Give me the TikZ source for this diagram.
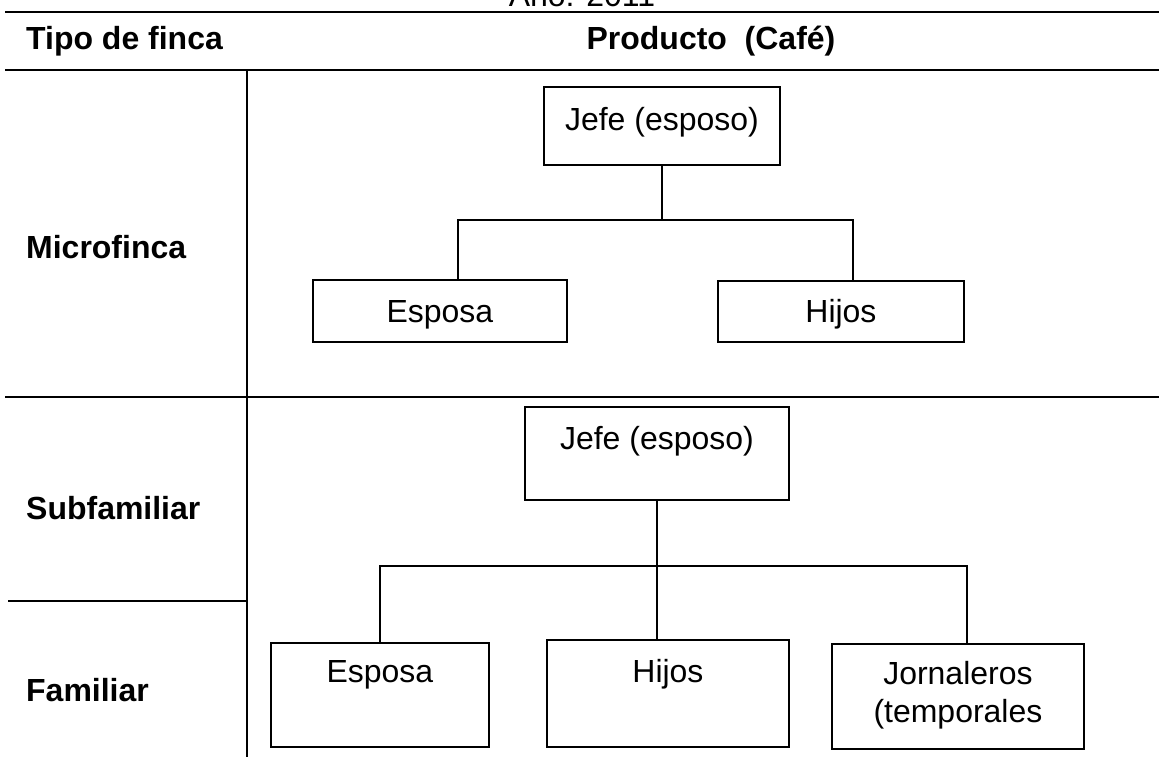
\documentclass[tikz,border=0pt]{standalone}
\usepackage{fontspec}
\setmainfont{Liberation Sans}
\tikzset{
  gruesa/.style={line width=1.6pt},
  fina/.style={line width=1.1pt},
  caja/.style={draw,line width=1.1pt,anchor=north west,align=center,inner xsep=0pt,inner ysep=0pt,
    font=\fontsize{18.2}{21.6}\selectfont},
  rotulo/.style={font=\fontsize{18.2}{21.6}\selectfont\bfseries}
}
\begin{document}
\begin{tikzpicture}[x=0.02cm,y=-0.02cm]
  \useasboundingbox (0,0) rectangle (1159,757);
  \clip (0,0) rectangle (1159,757);
  % encabezado de la tabla
  \node[font=\fontsize{18.2}{21.6}\selectfont,anchor=base] (anio) at (582,7) {Año: 2011};
  \node[rotulo,anchor=base west] (tipo) at (20,50) {Tipo de finca};
  \node[rotulo,anchor=base] (producto) at (711,50) {Producto\ \ (Café)};
  \draw[gruesa] (5,12) -- (1159,12);
  \draw[gruesa] (5,70) -- (1159,70);
  % divisiones
  \draw[line width=0.8pt] (247,70) -- (247,757);
  \draw[fina] (5,397) -- (1159,397);
  \draw[fina] (8,601) -- (247,601);
  % tipos de finca
  \foreach \i/\yval/\texto in {1/258/Microfinca, 2/519/Subfamiliar, 3/701/Familiar}
    \node[rotulo,anchor=base west] (fila\i) at (20,\yval) {\texto};
  % cajas: nombre/x/y/ancho/alto texto/profundidad/texto
  \foreach \nom/\xval/\yval/\ancho/\alto/\prof/\texto in {
      jefeA/543/86/4.72/0.87/0.69/{Jefe (esposo)},
      esposaA/312/279/5.08/0.85/0.39/{Esposa},
      hijosA/717/280/4.92/0.83/0.39/{Hijos},
      jefeB/524/406/5.28/0.85/1.01/{Jefe (esposo)},
      esposaB/270/642/4.36/0.79/1.29/{Esposa},
      hijosB/546/639/4.84/0.85/1.29/{Hijos},
      jornB/831/643/5.04/1.57/0.53/{Jornaleros\\(temporales}} {
    \node[caja,minimum width=\ancho cm,text height=\alto cm,text depth=\prof cm]
      (\nom) at (\xval,\yval) {\texto};
  }
  % organigrama de la microfinca
  \draw[fina] (jefeA.south) -- ++(0,54) coordinate (ramaA);
  \draw[fina] ([xshift=0.36cm]esposaA.north) |- (ramaA) -| ([xshift=0.24cm]hijosA.north);
  % organigrama subfamiliar y familiar
  \draw[fina] (jefeB.south) -- (jefeB.south |- hijosB.north);
  \path (jefeB.south) ++(0,65) coordinate (ramaB);
  \draw[fina] (esposaB.north) |- (ramaB) -| ([xshift=0.18cm]jornB.north);
\end{tikzpicture}
\end{document}
